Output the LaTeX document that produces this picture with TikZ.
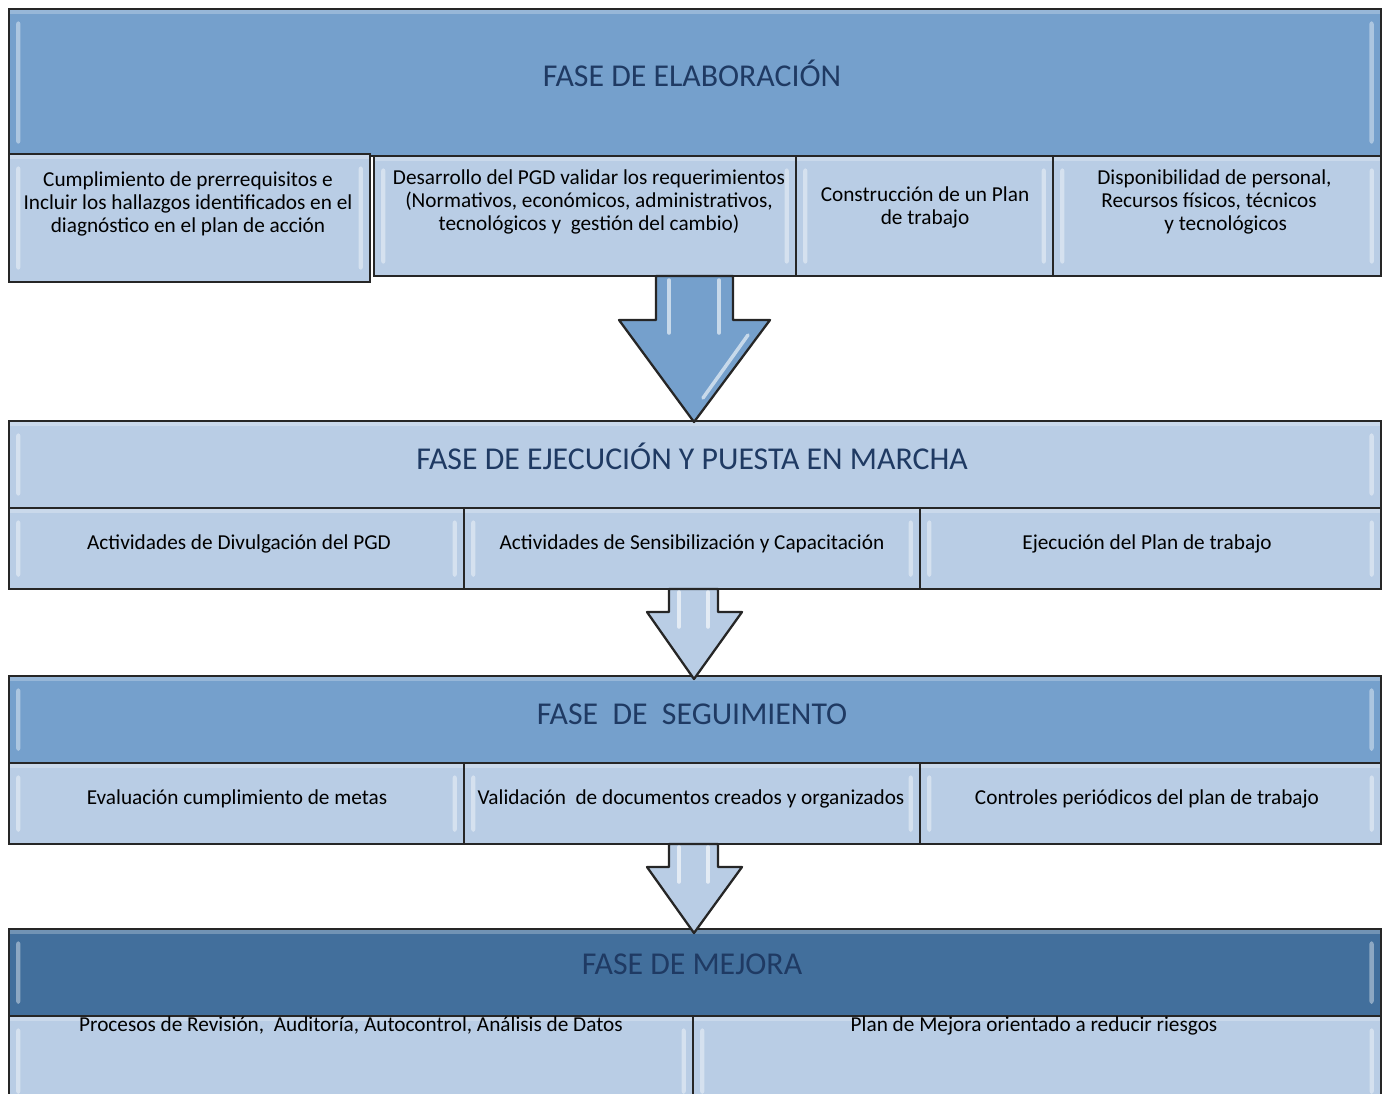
\documentclass[tikz,border=0pt]{standalone}
\usepackage{fontspec}
\setmainfont{Carlito}
\definecolor{hdrmid}{HTML}{75A0CC}
\definecolor{hdrdark}{HTML}{426F9C}
\definecolor{sublight}{HTML}{B9CDE5}
\definecolor{hdrtext}{HTML}{1F3A63}

\begin{document}
\begin{tikzpicture}[x=0.02cm,y=-0.02cm,
    bevel/.style={path picture={
        \fill[white,opacity=.4,rounded corners=1.5pt] ([xshift=4pt,yshift=-7pt]path picture bounding box.north west) rectangle ([xshift=6.5pt,yshift=7pt]path picture bounding box.south west);
        \fill[white,opacity=.4,rounded corners=1.5pt] ([xshift=-4pt,yshift=-7pt]path picture bounding box.north east) rectangle ([xshift=-6.5pt,yshift=7pt]path picture bounding box.south east);
        \fill[white,opacity=.25] (path picture bounding box.north west) rectangle ([yshift=-3pt]path picture bounding box.north east);}},
    box/.style={draw=black!85,line width=1.2pt,anchor=north west,inner sep=0pt,bevel},
    hdr/.style={box,fill=hdrmid,minimum width=27.44cm,minimum height=1.74cm},
    sub/.style={box,fill=sublight,minimum height=1.62cm},
    hdrtxt/.style={text=hdrtext,font=\fontsize{18.1}{22}\selectfont},
    subtxt/.style={align=center,font=\fontsize{12.1}{13.1}\selectfont,inner sep=0pt},
    barrow/.style={draw=black!85,line width=1.3pt,line join=round},
    shine/.style={white,opacity=.6,line width=2pt,line cap=round}]

\clip (0,0) rectangle (1383,1093);
\useasboundingbox (0,0) rectangle (1383,1093);

\node[hdr,minimum height=2.94cm] (elab) at (8,8) {};
\node[hdrtxt] (elabt) at (692,73) {FASE DE ELABORACIÓN};
\node[sub,minimum width=7.22cm,minimum height=2.56cm] (e1) at (8,153) {};
\node[sub,minimum width=8.44cm,minimum height=2.4cm] (e2) at (373,155) {};
\node[sub,minimum width=5.14cm,minimum height=2.4cm] (e3) at (795,155) {};
\node[sub,minimum width=6.56cm,minimum height=2.4cm] (e4) at (1052,155) {};
\node[subtxt] (e1t) at (188,204) {Cumplimiento de prerrequisitos e\\Incluir los hallazgos identificados en el\\diagnóstico en el plan de acción};
\node[subtxt] (e2t) at (589,202) {Desarrollo del PGD validar los requerimientos\\(Normativos, económicos, administrativos,\\tecnológicos y\ \ gestión del cambio)};
\node[subtxt] (e3t) at (925,207) {Construcción de un Plan\\de trabajo};
\node[subtxt,align=left,anchor=west] (e4t) at (1097,202) {Disponibilidad de personal,\\\hspace*{0.08cm}Recursos físicos, técnicos\\\hspace*{1.34cm}y tecnológicos};

\node[hdr,fill=sublight] (ejec) at (8,420) {};
\node[hdrtxt] (eject) at (692,456) {FASE DE EJECUCIÓN Y PUESTA EN MARCHA};
\node[sub,minimum width=9.1cm] (j1) at (8,507) {};
\node[sub,minimum width=9.12cm] (j2) at (463,507) {};
\node[sub,minimum width=9.22cm] (j3) at (919,507) {};
\node[subtxt] (j1t) at (239,544) {Actividades de Divulgación del PGD};
\node[subtxt] (j2t) at (692,544) {Actividades de Sensibilización y Capacitación};
\node[subtxt] (j3t) at (1147,544) {Ejecución del Plan de trabajo};

\node[hdr] (segu) at (8,675) {};
\node[hdrtxt] (segut) at (692,714) {FASE\ \ DE\ \ SEGUIMIENTO};
\node[sub,minimum width=9.1cm] (s1) at (8,762) {};
\node[sub,minimum width=9.12cm] (s2) at (463,762) {};
\node[sub,minimum width=9.22cm] (s3) at (919,762) {};
\node[subtxt] (s1t) at (237,799) {Evaluación cumplimiento de metas};
\node[subtxt] (s2t) at (691,799) {Validación\ \ de documentos creados y organizados};
\node[subtxt] (s3t) at (1147,799) {Controles periódicos del plan de trabajo};

\node[hdr,fill=hdrdark] (mejo) at (8,928) {};
\node[hdrtxt] (mejot) at (692,964) {FASE DE MEJORA};
\node[sub,minimum width=13.68cm,minimum height=1.8cm] (m1) at (8,1015) {};
\node[sub,minimum width=13.76cm,minimum height=1.8cm] (m2) at (692,1015) {};
\node[subtxt,anchor=base] (m1t) at (351,1031) {Procesos de Revisión,\ \ Auditoría, Autocontrol, Análisis de Datos};
\node[subtxt,anchor=base] (m2t) at (1034,1031) {Plan de Mejora orientado a reducir riesgos};

\coordinate (tip1) at (694,422);
\coordinate (tip2) at (694,679);
\coordinate (tip3) at (694,933);
\draw[barrow,fill=hdrmid] (656,276) -- (656,320) -- (619,320) -- (tip1) -- (770,320) -- (733,320) -- (733,276) -- cycle;
\draw[shine] (669,280) -- (669,333);
\draw[shine] (719,280) -- (719,333);
\draw[shine] (748,335) -- (703,398);
\draw[barrow,fill=sublight] (669,589) -- (669,612) -- (647,612) -- (tip2) -- (742,612) -- (718,612) -- (718,589) -- cycle;
\draw[shine] (679,592) -- (679,627);
\draw[shine] (708,592) -- (708,627);
\draw[barrow,fill=sublight] (669,844) -- (669,867) -- (647,867) -- (tip3) -- (742,867) -- (718,867) -- (718,844) -- cycle;
\draw[shine] (679,847) -- (679,882);
\draw[shine] (708,847) -- (708,882);
\end{tikzpicture}
\end{document}
